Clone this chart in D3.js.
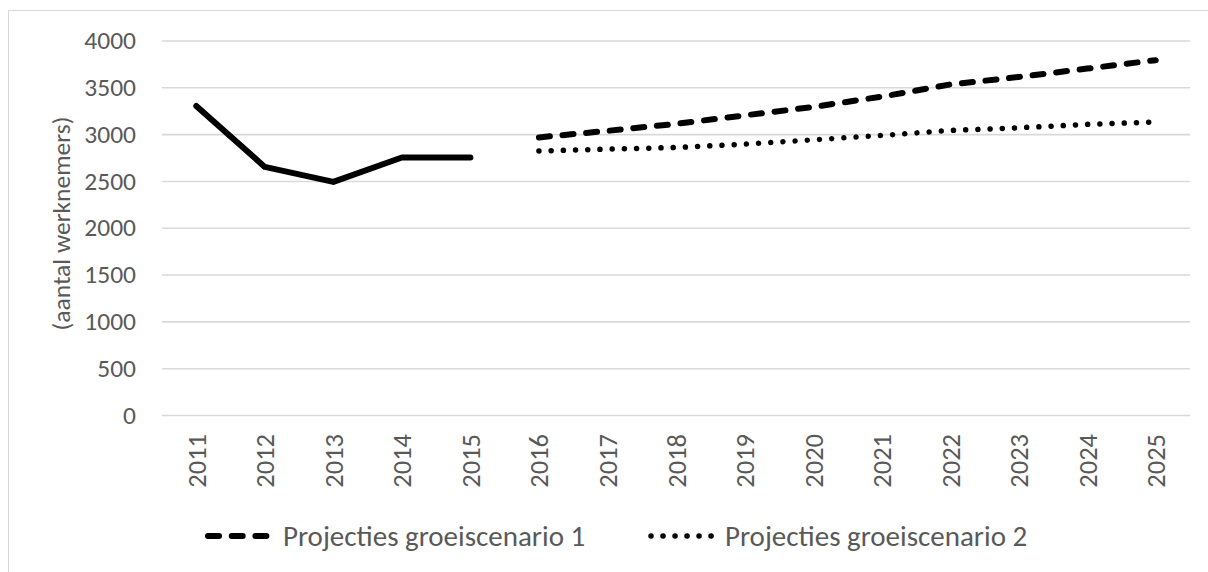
<!DOCTYPE html>
<html>
<head>
<meta charset="utf-8">
<script src="https://cdn.jsdelivr.net/npm/d3@7"></script>
<style>
  html, body { margin: 0; padding: 0; background: #fff; }
  svg { display: block; }
  text { font-family: Carlito, Calibri, "Open Sans", sans-serif; fill: #595959; }
</style>
</head>
<body>
<svg id="chart" width="1208" height="572"></svg>
<script>
const years = ["2011","2012","2013","2014","2015","2016","2017","2018","2019","2020","2021","2022","2023","2024","2025"];
const actualValues = [3300, 2650, 2490, 2750, 2750, null, null, null, null, null, null, null, null, null, null];
const scenario1Values = [null, null, null, null, null, 2965, 3035, 3110, 3200, 3290, 3400, 3530, 3610, 3700, 3790];
const scenario2Values = [null, null, null, null, null, 2820, 2840, 2857, 2893, 2939, 2986, 3039, 3068, 3104, 3130];
const yTicks = [0, 500, 1000, 1500, 2000, 2500, 3000, 3500, 4000];
const yTitle = "(aantal werknemers)";
const legendLabels = ["Projecties groeiscenario 1", "Projecties groeiscenario 2"];

const svg = d3.select("#chart");
const W = 1208, H = 572;
const plot = { left: 162, right: 1190, top: 40.5, bottom: 415 };
const FONT = 'Carlito, Calibri, "Open Sans", sans-serif';

// chart border
svg.append("rect").attr("x", 8.5).attr("y", 10.5).attr("width", W + 10).attr("height", H + 10)
  .attr("fill", "#fff").attr("stroke", "#d9d9d9").attr("stroke-width", 1);

const x = d3.scalePoint().domain(years).range([plot.left, plot.right]).padding(0.5);
const y = d3.scaleLinear().domain([0, 4000]).range([plot.bottom, plot.top]);

// gridlines + y labels
const yAxis = d3.axisLeft(y).tickValues(yTicks).tickSize(-(plot.right - plot.left)).tickPadding(26).tickFormat(d3.format("d"));
const gy = svg.append("g").attr("transform", `translate(${plot.left},0)`).call(yAxis);
gy.select(".domain").remove();
gy.selectAll(".tick line").attr("stroke", "#d9d9d9").attr("stroke-width", 1.6);
gy.selectAll(".tick text").attr("font-size", 25.5).attr("fill", "#595959").style("font-family", FONT);

// x axis labels (rotated)
const xAxis = d3.axisBottom(x).tickSize(0).tickPadding(0);
const gx = svg.append("g").attr("transform", `translate(0,${plot.bottom})`).call(xAxis);
gx.select(".domain").remove();
gx.selectAll(".tick text")
  .attr("font-size", 26.5).attr("fill", "#595959")
  .style("font-family", FONT)
  .attr("text-anchor", "end")
  .attr("dy", null)
  .attr("dominant-baseline", "central")
  .attr("transform", "translate(0,19) rotate(-90)");

// y title
svg.append("text")
  .attr("transform", `translate(61,${(117 + 330) / 2}) rotate(-90)`)
  .attr("text-anchor", "middle").attr("dominant-baseline", "central")
  .attr("font-size", 25.5).text(yTitle);

// lines
function seriesLine(vals) {
  return d3.line()
    .defined(d => d.v != null)
    .x(d => x(d.year))
    .y(d => y(d.v))(years.map((yr, i) => ({ year: yr, v: vals[i] })));
}
const dashArr = "11 12.7";
const dotArr = "0.01 12.2";

svg.append("path").attr("d", seriesLine(actualValues))
  .attr("fill", "none").attr("stroke", "#000").attr("stroke-width", 6)
  .attr("stroke-linecap", "round").attr("stroke-linejoin", "round");
svg.append("path").attr("d", seriesLine(scenario1Values))
  .attr("fill", "none").attr("stroke", "#000").attr("stroke-width", 6)
  .attr("stroke-linecap", "round").attr("stroke-linejoin", "round")
  .attr("stroke-dasharray", dashArr);
svg.append("path").attr("d", seriesLine(scenario2Values))
  .attr("fill", "none").attr("stroke", "#000").attr("stroke-width", 5.5)
  .attr("stroke-linecap", "round").attr("stroke-linejoin", "round")
  .attr("stroke-dasharray", dotArr);

// legend
const ly = 536;
const lg = svg.append("g");
lg.append("line").attr("x1", 208).attr("x2", 266.4).attr("y1", ly).attr("y2", ly)
  .attr("stroke", "#000").attr("stroke-width", 6).attr("stroke-linecap", "round").attr("stroke-dasharray", dashArr);
lg.append("text").attr("x", 283).attr("y", ly).attr("dominant-baseline", "central")
  .attr("font-size", 29).text(legendLabels[0]);
lg.append("line").attr("x1", 651).attr("x2", 711.1).attr("y1", ly).attr("y2", ly)
  .attr("stroke", "#000").attr("stroke-width", 5.5).attr("stroke-linecap", "round").attr("stroke-dasharray", "0.01 12");
lg.append("text").attr("x", 725).attr("y", ly).attr("dominant-baseline", "central")
  .attr("font-size", 29).text(legendLabels[1]);
</script>
</body>
</html>
